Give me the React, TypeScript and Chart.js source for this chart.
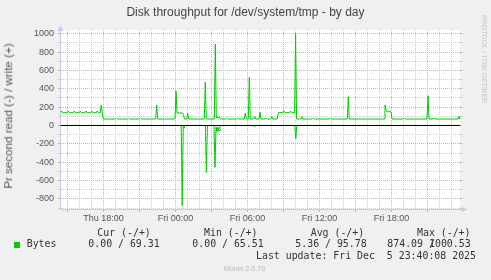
import React, { useEffect, useRef } from 'react';
import { Chart, registerables } from 'chart.js';

Chart.register(...registerables);

// Time is in hours since Thu 00:00 (24 = Fri 00:00).
const writeTimes = [
  14.375, 14.517, 14.6, 14.983, 15.067, 15.15, 15.483, 15.567, 15.65, 15.983, 16.067, 16.15,
  16.458, 16.542, 16.625, 16.933, 17.017, 17.1, 17.4, 17.483, 17.567, 17.733, 17.817, 17.9, 17.983,
  19.0, 19.083, 19.167, 20.0, 20.083, 20.167, 21.0, 21.083, 21.167,
  22.35, 22.433, 22.517,
  23.958, 24.042, 24.125, 24.583, 24.667, 24.75, 24.933, 25.017, 25.1,
  26.4, 26.483, 26.567,
  27.233, 27.317, 27.4, 27.483, 27.567, 27.65, 27.733,
  28.183, 28.267, 28.35, 29.117, 29.2, 29.283,
  29.733, 29.817, 29.9, 30.067, 30.15, 30.233, 30.517, 30.6, 30.683,
  30.958, 31.042, 31.125, 31.458, 31.542, 31.625, 31.933, 32.017, 32.1,
  32.483, 32.567, 32.958, 33.042, 33.125, 33.517, 33.6, 33.683, 33.925, 34.008, 34.092,
  34.458, 34.542, 34.625, 35.4, 35.483, 35.567, 36.8, 36.883, 36.967,
  38.317, 38.4, 38.483,
  41.375, 41.458, 41.542, 41.625, 41.958, 42.042,
  42.983, 43.067, 43.15, 44.958, 45.042, 45.125, 45.458, 45.542, 45.625,
  47.542, 47.625, 47.708,
];
const writeValues = [
  139, 158, 139, 139, 158, 139, 139, 158, 139, 139, 158, 139,
  139, 158, 139, 139, 158, 139, 139, 158, 139, 139, 223, 139, 70,
  70, 80, 70, 70, 80, 70, 70, 80, 70,
  70, 223, 70,
  70, 375, 136, 136, 112, 70, 70, 133, 70,
  70, 472, 70,
  70, 886, 80, 96, 80, 96, 70,
  70, 80, 70, 70, 80, 70,
  70, 133, 70, 70, 524, 70, 70, 96, 70,
  70, 145, 70, 70, 80, 70, 70, 100, 70,
  70, 139, 139, 158, 139, 139, 158, 139, 139, 1000.53, 70,
  70, 96, 70, 70, 80, 70, 70, 80, 70,
  70, 313, 70,
  70, 223, 175, 150, 150, 70,
  70, 80, 70, 70, 324, 70, 70, 80, 70,
  70, 100, 69.31,
];
const readTimes = [
  14.375, 24.475, 24.558, 24.642, 24.725, 24.808,
  26.492, 26.575, 26.658,
  27.208, 27.292, 27.375, 27.458, 27.542, 27.625, 27.708,
  30.517, 30.6, 30.683,
  33.942, 34.025, 34.108,
  47.708,
];
const readValues = [
  0, 0, -874.09, -10, -30, 0,
  0, -510, 0,
  0, -457, -20, -65, -20, -60, 0,
  0, -15, 0,
  0, -145, 0,
  0,
];

const xLabelHours = [18, 24, 30, 36, 42];
const xLabelTexts = ['Thu 18:00', 'Fri 00:00', 'Fri 06:00', 'Fri 12:00', 'Fri 18:00'];
const yLabelEvery = 200;

const legendHeaders = ['Cur (-/+)', 'Min (-/+)', 'Avg (-/+)', 'Max (-/+)'];
const legendValues = ['0.00 / 69.31', '0.00 / 65.51', '5.36 / 95.78'];
const maxRead = '874.09 ';
const maxWrite = '1000.53';

const X_MIN = 14.375;
const X_MAX = 47.7083;
const Y_MIN = -910;
const Y_MAX = 1040;

const GREEN = '#00cc00';
const MAJOR = '#f4a0a0';
const MINOR = '#cccccc';
const AXIS = '#c4c8f4';
const TICK_TEXT = '#555555';
const MONO = '"DejaVu Sans Mono", monospace';
const SANS = '"Liberation Sans", Arial, sans-serif';

export default function App() {
  const ref = useRef<HTMLCanvasElement>(null);

  useEffect(() => {
    const canvas = ref.current;
    if (!canvas) return;

    const overlay = {
      id: 'muninOverlay',
      beforeDraw(chart: any) {
        const { ctx, chartArea: a } = chart;
        ctx.save();
        ctx.fillStyle = '#ffffff';
        ctx.fillRect(a.left, a.top, a.right - a.left, a.bottom - a.top);
        ctx.restore();
      },
      afterDatasetsDraw(chart: any) {
        const { ctx, chartArea: a, scales } = chart;
        ctx.save();
        // right-side grid stubs
        const yTicks = scales.y.ticks;
        for (const t of yTicks) {
          const py = Math.floor(scales.y.getPixelForValue(t.value)) + 0.5;
          ctx.strokeStyle = t.value % 200 === 0 ? MAJOR : MINOR;
          ctx.lineWidth = 1;
          ctx.beginPath();
          ctx.moveTo(a.right, py);
          ctx.lineTo(a.right + 2, py);
          ctx.stroke();
        }
        // zero line
        const y0 = Math.floor(scales.y.getPixelForValue(0)) + 0.5;
        ctx.strokeStyle = '#000000';
        ctx.beginPath();
        ctx.moveTo(a.left + 1, y0);
        ctx.lineTo(a.right, y0);
        ctx.stroke();
        // axis extensions and arrows
        const lx = Math.round(a.left) + 0.5;
        const by = Math.round(a.bottom) + 0.5;
        ctx.strokeStyle = AXIS;
        ctx.beginPath();
        ctx.moveTo(lx, a.top);
        ctx.lineTo(lx, a.top - 3);
        ctx.moveTo(a.right, by);
        ctx.lineTo(a.right + 3, by);
        ctx.stroke();
        ctx.fillStyle = AXIS;
        ctx.beginPath();
        ctx.moveTo(lx, a.top - 5);
        ctx.lineTo(lx - 2.8, a.top + 1);
        ctx.lineTo(lx + 2.8, a.top + 1);
        ctx.closePath();
        ctx.fill();
        ctx.beginPath();
        ctx.moveTo(a.right + 7, by);
        ctx.lineTo(a.right + 1.5, by - 2.8);
        ctx.lineTo(a.right + 1.5, by + 2.8);
        ctx.closePath();
        ctx.fill();
        ctx.restore();
      },
    };

    const chart = new Chart(canvas, {
      type: 'line',
      data: {
        datasets: [
          {
            label: 'write',
            data: writeTimes.map((t, i) => ({ x: t, y: writeValues[i] })),
            borderColor: GREEN,
            borderWidth: 1,
            pointRadius: 0,
            tension: 0,
            fill: false,
          },
          {
            label: 'read',
            data: readTimes.map((t, i) => ({ x: t, y: readValues[i] })),
            borderColor: GREEN,
            borderWidth: 1,
            pointRadius: 0,
            tension: 0,
            fill: false,
          },
        ],
      },
      options: {
        responsive: false,
        animation: false,
        devicePixelRatio: 1,
        layout: { padding: { left: 8, top: 30, right: 31, bottom: 51 } },
        plugins: { legend: { display: false }, tooltip: { enabled: false }, title: { display: false } },
        scales: {
          x: {
            type: 'linear',
            min: X_MIN,
            max: X_MAX,
            afterFit: (s: any) => { s.height = 20; },
            border: { color: AXIS, width: 1, dash: [1, 1] },
            grid: {
              color: (c: any) => (c.tick && c.tick.value % 3 === 0 ? MAJOR : MINOR),
              tickColor: (c: any) => (c.tick && c.tick.value % 3 === 0 ? MAJOR : 'rgba(0,0,0,0)'),
              tickLength: 3,
              lineWidth: 1,
            },
            ticks: {
              stepSize: 1,
              autoSkip: false,
              includeBounds: false,
              maxRotation: 0,
              minRotation: 0,
              padding: 1,
              color: TICK_TEXT,
              font: { family: SANS, size: 9 },
              callback: (v: any) => {
                const i = xLabelHours.indexOf(Number(v));
                return i >= 0 ? xLabelTexts[i] : '';
              },
            },
          },
          y: {
            type: 'linear',
            min: Y_MIN,
            max: Y_MAX,
            afterFit: (s: any) => { s.width = 52; },
            border: { color: AXIS, width: 1, dash: [1, 1] },
            grid: {
              color: (c: any) => (c.tick && c.tick.value % yLabelEvery === 0 ? MAJOR : MINOR),
              tickColor: (c: any) => (c.tick && c.tick.value % yLabelEvery === 0 ? MAJOR : MINOR),
              tickLength: 2,
              lineWidth: 1,
            },
            ticks: {
              stepSize: 100,
              autoSkip: false,
              includeBounds: false,
              padding: 4,
              color: TICK_TEXT,
              font: { family: SANS, size: 9 },
              callback: (v: any) => (Number(v) % yLabelEvery === 0 ? String(v) : ''),
            },
          },
        },
      },
      plugins: [overlay],
    } as any);

    return () => chart.destroy();
  }, []);

  const mono = (left: number, top: number, text: string, extra: any = {}) => (
    <div
      style={{
        position: 'absolute', left, top, fontFamily: MONO, fontSize: 9.9, lineHeight: '9.9px',
        color: '#333333', whiteSpace: 'pre', ...extra,
      }}
    >
      {text}
    </div>
  );

  return (
    <div style={{ position: 'absolute', left: 0, top: 0, width: 491, height: 280, background: '#f0f0f0', overflow: 'hidden' }}>
      <canvas ref={ref} width={491} height={280} style={{ position: 'absolute', left: 0, top: 0, width: 491, height: 280 }} />
      <div
        style={{
          position: 'absolute', left: 0, top: 5.5, width: 491, textAlign: 'center', fontFamily: SANS,
          fontSize: 12, lineHeight: '12px', color: '#444444', whiteSpace: 'pre',
        }}
      >
        Disk throughput for /dev/system/tmp - by day
      </div>
      <div
        style={{
          position: 'absolute', left: 7.5, top: 115.8, transform: 'translate(-50%, -50%) rotate(-90deg)',
          fontFamily: SANS, fontSize: 11.6, lineHeight: '11.6px', color: '#555555', whiteSpace: 'pre',
        }}
      >
        Pr second read (-) / write (+)
      </div>
      <div
        style={{
          position: 'absolute', left: 480.6, top: 15, writingMode: 'vertical-rl', fontFamily: SANS,
          fontSize: 7, lineHeight: '7px', color: '#c8c8c8', whiteSpace: 'pre',
        }}
      >
        RRDTOOL / TOBI OETIKER
      </div>
      {mono(97.3, 227.9, legendHeaders[0])}
      {mono(204, 227.9, legendHeaders[1])}
      {mono(310.7, 227.9, legendHeaders[2])}
      {mono(417, 227.9, legendHeaders[3])}
      <div style={{ position: 'absolute', left: 14, top: 242, width: 6, height: 6, background: GREEN }} />
      {mono(26.7, 239.4, 'Bytes')}
      {mono(88.3, 239.4, legendValues[0])}
      {mono(192.3, 239.4, legendValues[1])}
      {mono(295.3, 239.4, legendValues[2])}
      {mono(387.3, 239.4, maxRead)}
      {mono(429, 239.4, '/')}
      {mono(429, 239.4, maxWrite)}
      {mono(256, 251.1, 'Last update: Fri Dec  5 23:40:08 2025')}
      <div
        style={{
          position: 'absolute', left: 0, top: 264.9, width: 491, textAlign: 'center', fontFamily: SANS,
          fontSize: 7.2, lineHeight: '7.2px', color: '#bbbbbb', whiteSpace: 'pre',
        }}
      >
        <span style={{ position: 'relative', left: -1 }}>Munin 2.0.76</span>
      </div>
    </div>
  );
}
